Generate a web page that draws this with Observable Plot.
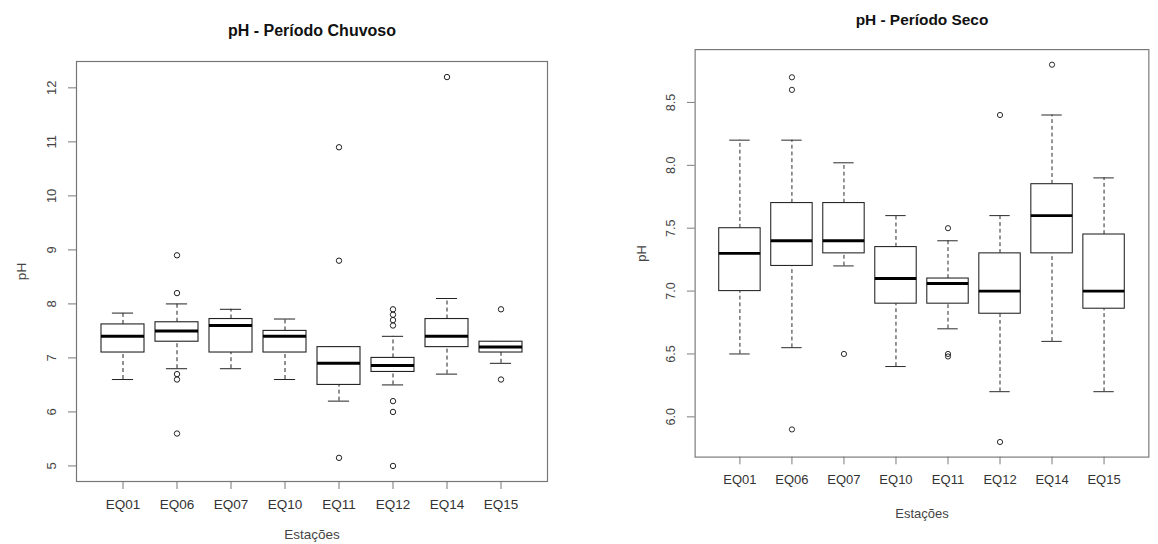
<!DOCTYPE html>
<html>
<head>
<meta charset="utf-8">
<script src="https://cdn.jsdelivr.net/npm/d3@7"></script>
<script src="https://cdn.jsdelivr.net/npm/@observablehq/plot@0.6"></script>
<style>
  html, body { margin: 0; padding: 0; background: #fff; }
  #wrap { position: relative; width: 1158px; height: 544px; overflow: hidden; background: #fff; }
  #wrap > div { position: absolute; top: 0; }
  #left { left: 0; }
  #right { left: 580px; }
</style>
</head>
<body>
<div id="wrap"><div id="left"></div><div id="right"></div></div>
<script>
const stations = ["EQ01", "EQ06", "EQ07", "EQ10", "EQ11", "EQ12", "EQ14", "EQ15"];

// Período Chuvoso
const chuvosoLo  = [6.6, 6.8, 6.8, 6.6, 6.2, 6.5, 6.7, 6.9];
const chuvosoQ1  = [7.1, 7.3, 7.1, 7.1, 6.5, 6.74, 7.2, 7.1];
const chuvosoMed = [7.4, 7.5, 7.6, 7.4, 6.9, 6.86, 7.4, 7.2];
const chuvosoQ3  = [7.62, 7.66, 7.72, 7.5, 7.2, 7.0, 7.72, 7.3];
const chuvosoHi  = [7.83, 8.0, 7.9, 7.72, 7.2, 7.4, 8.1, 7.3];
const chuvosoOut = [[], [8.9, 8.2, 6.7, 6.6, 5.6], [], [], [10.9, 8.8, 5.15], [7.9, 7.8, 7.7, 7.6, 6.2, 6.0, 5.0], [12.2], [7.9, 6.6]];
const chuvosoTicks = [5, 6, 7, 8, 9, 10, 11, 12];

// Período Seco
const secoLo  = [6.5, 6.55, 7.2, 6.4, 6.7, 6.2, 6.6, 6.2];
const secoQ1  = [7.0, 7.2, 7.3, 6.9, 6.9, 6.82, 7.3, 6.86];
const secoMed = [7.3, 7.4, 7.4, 7.1, 7.06, 7.0, 7.6, 7.0];
const secoQ3  = [7.5, 7.7, 7.7, 7.35, 7.1, 7.3, 7.85, 7.45];
const secoHi  = [8.2, 8.2, 8.02, 7.6, 7.4, 7.6, 8.4, 7.9];
const secoOut = [[], [8.7, 8.6, 5.9], [6.5], [], [7.5, 6.5, 6.48], [8.4, 5.8], [8.8], []];
const secoTicks = [6.0, 6.5, 7.0, 7.5, 8.0, 8.5];

const FONT = "'Liberation Sans', Arial, Helvetica, sans-serif";

function makeStats(lo, q1, med, q3, hi) {
  return stations.map((s, i) => ({s, lo: lo[i], q1: q1[i], med: med[i], q3: q3[i], hi: hi[i]}));
}
function makeOut(out) {
  return stations.flatMap((s, i) => out[i].map(v => ({s, v})));
}

function panel(o) {
  const stats = makeStats(...o.series);
  const outs = makeOut(o.out);
  const cap = 10.9;
  const ink = "#222";
  return Plot.plot({
    width: o.width, height: 544,
    marginTop: o.mt, marginBottom: o.mb, marginLeft: o.ml, marginRight: o.mr,
    style: {fontFamily: FONT, fontSize: "13px", background: "#fff", overflow: "visible"},
    x: {type: "band", domain: stations, paddingInner: 0.2, paddingOuter: 0.42},
    y: {domain: o.domain},
    marks: [
      Plot.frame({stroke: "#777", strokeWidth: 1.2}),
      Plot.axisX({tickSize: 8, tickPadding: 10, stroke: "#777", fill: "#333", fontSize: 13.5, label: null}),
      Plot.axisY({ticks: o.ticks, tickSize: 8, tickFormat: () => "", stroke: "#777", label: null}),
      Plot.text(o.ticks, {y: d => d, frameAnchor: "left", dx: -25, rotate: -90, text: o.fmt,
        fill: "#444", fontSize: 13, textAnchor: "middle", lineAnchor: "middle"}),
      // whiskers
      Plot.ruleX(stats, {x: "s", y1: "q3", y2: "hi", stroke: ink, strokeDasharray: "4,3"}),
      Plot.ruleX(stats, {x: "s", y1: "lo", y2: "q1", stroke: ink, strokeDasharray: "4,3"}),
      Plot.tickY(stats, {x: "s", y: "hi", stroke: ink, insetLeft: cap, insetRight: cap}),
      Plot.tickY(stats, {x: "s", y: "lo", stroke: ink, insetLeft: cap, insetRight: cap}),
      // boxes
      Plot.barY(stats, {x: "s", y1: "q1", y2: "q3", fill: "#fff", stroke: ink, strokeWidth: 1.1}),
      Plot.tickY(stats, {x: "s", y: "med", stroke: "#000", strokeWidth: 3}),
      // outliers
      Plot.dot(outs, {x: "s", y: "v", r: 2.7, stroke: ink, fill: "none", strokeWidth: 1}),
      // titles
      Plot.text([o.title], {frameAnchor: "top", dy: -31, text: d => d, fontWeight: "bold", fontSize: 16,
        fill: "#111", textAnchor: "middle", lineAnchor: "middle"}),
      Plot.text(["Estações"], {frameAnchor: "bottom", dy: o.xlabDy, text: d => d, fontSize: 13.5,
        fill: "#444", textAnchor: "middle", lineAnchor: "middle"}),
      Plot.text(["pH"], {frameAnchor: "left", dx: -55, rotate: -90, text: d => d, fontSize: 13.5,
        fill: "#444", textAnchor: "middle", lineAnchor: "middle"})
    ]
  });
}

document.getElementById("left").append(panel({
  title: "pH - Período Chuvoso",
  series: [chuvosoLo, chuvosoQ1, chuvosoMed, chuvosoQ3, chuvosoHi],
  out: chuvosoOut,
  ticks: chuvosoTicks, fmt: d => String(d),
  domain: [4.712, 12.488],
  width: 580, mt: 61, mb: 63, ml: 76, mr: 33, xlabDy: 53
}));

document.getElementById("right").append(panel({
  title: "pH - Período Seco",
  series: [secoLo, secoQ1, secoMed, secoQ3, secoHi],
  out: secoOut,
  ticks: secoTicks, fmt: d => d.toFixed(1),
  domain: [5.68, 8.92],
  width: 600, mt: 51, mb: 70, ml: 119, mr: 10, xlabDy: 59
}));
</script>
</body>
</html>
